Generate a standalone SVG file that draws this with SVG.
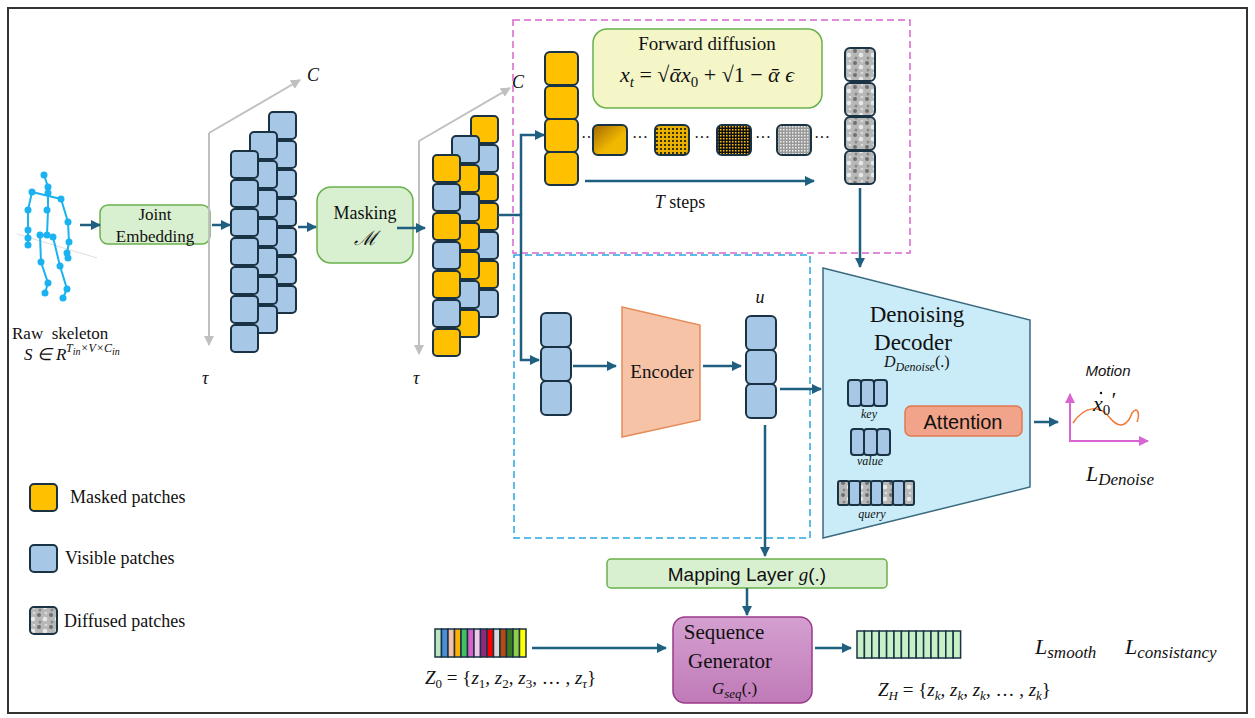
<svg xmlns="http://www.w3.org/2000/svg" width="1255" height="718" viewBox="0 0 1255 718">
<defs>
<style>
.t{font-family:"Liberation Serif","Times New Roman",serif;fill:#111}
.i{font-family:"Liberation Serif","Times New Roman",serif;font-style:italic;fill:#111}
.s{font-family:"Liberation Sans",sans-serif;fill:#111}
.ln{stroke:#1f5f80;stroke-width:2.5;fill:none}
.ax{stroke:#c0c0c0;stroke-width:2;fill:none}
.b{fill:#a7c7e7;stroke:#1a3344;stroke-width:2}
.y{fill:#ffc000;stroke:#1a3344;stroke-width:2}
.n{fill:url(#noise);stroke:#1a3344;stroke-width:2}
.g{fill:#d9f0d0;stroke:#6ab04c;stroke-width:1.5}
.jt{fill:#1ab2f0}
.bn{stroke:#1ab2f0;stroke-width:2;fill:none}
</style>
<marker id="a" viewBox="0 0 10 10" refX="9" refY="5" markerWidth="4" markerHeight="4" orient="auto"><path d="M0,0L10,5L0,10z" fill="#1f5f80"/></marker>
<marker id="ag" viewBox="0 0 10 10" refX="9" refY="5" markerWidth="5" markerHeight="5" orient="auto"><path d="M0,0L10,5L0,10z" fill="#c0c0c0"/></marker>
<marker id="am" viewBox="0 0 10 10" refX="9" refY="5" markerWidth="5" markerHeight="5" orient="auto"><path d="M0,0L10,5L0,10z" fill="#d865d0"/></marker>
<pattern id="noise" width="12" height="12" patternUnits="userSpaceOnUse">
<rect width="12" height="12" fill="#b8b8b8"/><circle cx="3" cy="3" r="2" fill="#707070"/><circle cx="9" cy="7" r="2.3" fill="#e8e8e8"/><circle cx="4" cy="10" r="1.5" fill="#888"/><circle cx="10" cy="1" r="1.3" fill="#ddd"/>
</pattern>
<pattern id="dot1" width="4" height="4" patternUnits="userSpaceOnUse"><rect width="4" height="4" fill="#e8b000"/><rect width="2" height="2" fill="#3a3000"/></pattern>
<pattern id="dot2" width="3" height="3" patternUnits="userSpaceOnUse"><rect width="3" height="3" fill="#111"/><rect width="1.5" height="1.5" fill="#ffc000"/></pattern>
<pattern id="dot3" width="3" height="3" patternUnits="userSpaceOnUse"><rect width="3" height="3" fill="#999"/><rect width="1.5" height="1.5" fill="#eee"/></pattern>
<linearGradient id="yg" x1="0" y1="0" x2="1" y2="1"><stop offset="0" stop-color="#a06800"/><stop offset="0.6" stop-color="#f0b800"/></linearGradient>
<linearGradient id="pg" x1="0" y1="0" x2="0" y2="1"><stop offset="0" stop-color="#d4a0d0"/><stop offset="1" stop-color="#c07ab8"/></linearGradient>
</defs>
<rect x="0" y="0" width="1255" height="718" fill="#fff"/>
<rect x="8" y="8" width="1239" height="705" fill="none" stroke="#333" stroke-width="2"/>

<g id="skeleton">
<line x1="17" y1="234" x2="97" y2="258" stroke="#ddd" stroke-width="1"/>
<path class="bn" d="M44,175L48,187L48,210L47,235M32,192L61,199M48,187L48,193M32,192L28,210L28,230L28,245M61,199L68,222L69,242L67,253M40,235L53,237M40,235L41,262L48,283L45,293M53,237L60,266L67,289L63,298"/>
<g class="jt"><circle cx="44" cy="175" r="3.5"/><circle cx="48" cy="187" r="3.5"/><circle cx="32" cy="192" r="3.5"/><circle cx="48" cy="193" r="3.5"/><circle cx="61" cy="199" r="3.5"/><circle cx="28" cy="210" r="3.5"/><circle cx="47" cy="210" r="3.5"/><circle cx="68" cy="222" r="3.5"/><circle cx="28" cy="230" r="3.5"/><circle cx="28" cy="238" r="3.5"/><circle cx="28" cy="245" r="3.5"/><circle cx="40" cy="235" r="3.5"/><circle cx="47" cy="235" r="3.5"/><circle cx="53" cy="237" r="3.5"/><circle cx="69" cy="242" r="3.5"/><circle cx="67" cy="253" r="3.5"/><circle cx="68" cy="258" r="3.5"/><circle cx="41" cy="262" r="3.5"/><circle cx="60" cy="266" r="3.5"/><circle cx="48" cy="283" r="3.5"/><circle cx="67" cy="289" r="3.5"/><circle cx="45" cy="293" r="3.5"/><circle cx="63" cy="298" r="3.5"/></g>
<text class="t" x="12" y="339" font-size="17" xml:space="preserve">Raw  skeleton</text>
<text class="i" x="24" y="360" font-size="17">S ∈ R</text>
<text class="i" x="66" y="352" font-size="12">T<tspan font-size="10" dy="3">in</tspan><tspan dy="-3">×V×C</tspan><tspan font-size="10" dy="3">in</tspan></text>
</g>

<g id="joint-embedding"><rect class="g" x="100" y="205" width="110" height="39" rx="8"/>
<text class="t" x="155" y="220" font-size="17" text-anchor="middle">Joint</text><text class="t" x="155" y="242" font-size="17" text-anchor="middle">Embedding</text></g>

<g id="axes1"><path class="ax" d="M209,133L300,80" marker-end="url(#ag)"/><path class="ax" d="M209,133V345" marker-end="url(#ag)"/>
<text class="i" x="307" y="81" font-size="18">C</text><text class="i" x="202" y="384" font-size="18">τ</text></g>

<g id="stack1">
<rect class="b" x="269" y="112" width="27" height="27" rx="4"/><rect class="b" x="269" y="141" width="27" height="27" rx="4"/><rect class="b" x="269" y="170" width="27" height="27" rx="4"/><rect class="b" x="269" y="199" width="27" height="27" rx="4"/><rect class="b" x="269" y="228" width="27" height="27" rx="4"/><rect class="b" x="269" y="257" width="27" height="27" rx="4"/><rect class="b" x="269" y="286" width="27" height="27" rx="4"/>
<rect class="b" x="250" y="132" width="27" height="27" rx="4"/><rect class="b" x="250" y="161" width="27" height="27" rx="4"/><rect class="b" x="250" y="190" width="27" height="27" rx="4"/><rect class="b" x="250" y="219" width="27" height="27" rx="4"/><rect class="b" x="250" y="248" width="27" height="27" rx="4"/><rect class="b" x="250" y="277" width="27" height="27" rx="4"/><rect class="b" x="250" y="306" width="27" height="27" rx="4"/>
<rect class="b" x="231" y="151" width="27" height="27" rx="4"/><rect class="b" x="231" y="180" width="27" height="27" rx="4"/><rect class="b" x="231" y="209" width="27" height="27" rx="4"/><rect class="b" x="231" y="238" width="27" height="27" rx="4"/><rect class="b" x="231" y="267" width="27" height="27" rx="4"/><rect class="b" x="231" y="296" width="27" height="27" rx="4"/><rect class="b" x="231" y="325" width="27" height="27" rx="4"/>
</g>

<g id="masking"><rect class="g" x="317" y="187" width="96" height="76" rx="14"/>
<text class="t" x="365" y="219" font-size="18" text-anchor="middle">Masking</text><text class="i" x="365" y="245" font-size="20" text-anchor="middle">ℳ</text></g>

<g id="axes2"><path class="ax" d="M419,141L510,88" marker-end="url(#ag)"/><path class="ax" d="M419,141V354" marker-end="url(#ag)"/>
<text class="i" x="512" y="88" font-size="18">C</text><text class="i" x="413" y="384" font-size="18">τ</text></g>

<g id="stack2">
<rect class="y" x="471" y="116" width="27" height="27" rx="4"/><rect class="b" x="471" y="145" width="27" height="27" rx="4"/><rect class="y" x="471" y="174" width="27" height="27" rx="4"/><rect class="y" x="471" y="203" width="27" height="27" rx="4"/><rect class="b" x="471" y="232" width="27" height="27" rx="4"/><rect class="y" x="471" y="261" width="27" height="27" rx="4"/><rect class="b" x="471" y="290" width="27" height="27" rx="4"/>
<rect class="b" x="452" y="136" width="27" height="27" rx="4"/><rect class="y" x="452" y="165" width="27" height="27" rx="4"/><rect class="b" x="452" y="194" width="27" height="27" rx="4"/><rect class="y" x="452" y="223" width="27" height="27" rx="4"/><rect class="y" x="452" y="252" width="27" height="27" rx="4"/><rect class="b" x="452" y="281" width="27" height="27" rx="4"/><rect class="y" x="452" y="310" width="27" height="27" rx="4"/>
<rect class="y" x="433" y="155" width="27" height="27" rx="4"/><rect class="b" x="433" y="184" width="27" height="27" rx="4"/><rect class="y" x="433" y="213" width="27" height="27" rx="4"/><rect class="b" x="433" y="242" width="27" height="27" rx="4"/><rect class="y" x="433" y="271" width="27" height="27" rx="4"/><rect class="b" x="433" y="300" width="27" height="27" rx="4"/><rect class="y" x="433" y="329" width="27" height="27" rx="4"/>
</g>

<g id="regions">
<rect x="513" y="20" width="397" height="233" fill="none" stroke="#d865d0" stroke-width="1.5" stroke-dasharray="7,4"/>
<rect x="514" y="255" width="296" height="283" fill="none" stroke="#28a8e0" stroke-width="1.5" stroke-dasharray="7,4"/>
</g>

<g id="forward-diffusion">
<rect x="593" y="29" width="229" height="79" rx="14" fill="#f4f6c8" stroke="#6ab04c" stroke-width="1.5"/>
<text class="t" x="707" y="50" font-size="19" text-anchor="middle">Forward diffusion</text>
<text class="i" x="707" y="82" font-size="22" text-anchor="middle">x<tspan font-size="15" dy="5">t</tspan><tspan dy="-5" font-style="normal"> = </tspan>√ᾱx<tspan font-size="15" dy="5" font-style="normal">0</tspan><tspan dy="-5" font-style="normal"> + √1 − </tspan>ᾱ ϵ</text>
</g>
<g id="masked-column"><rect class="y" x="545" y="52" width="33" height="33" rx="5"/><rect class="y" x="545" y="86" width="33" height="33" rx="5"/><rect class="y" x="545" y="119" width="33" height="33" rx="5"/><rect class="y" x="545" y="152" width="33" height="33" rx="5"/></g>
<g id="diffusion-steps">
<rect x="593" y="125" width="34" height="30" rx="5" fill="url(#yg)" stroke="#1a3344" stroke-width="2"/>
<rect x="655" y="125" width="34" height="30" rx="5" fill="url(#dot1)" stroke="#1a3344" stroke-width="2"/>
<rect x="717" y="125" width="34" height="30" rx="5" fill="url(#dot2)" stroke="#1a3344" stroke-width="2"/>
<rect x="777" y="125" width="34" height="30" rx="5" fill="url(#dot3)" stroke="#1a3344" stroke-width="2"/>
<text class="t" x="581" y="143" font-size="16">··</text><text class="t" x="632" y="143" font-size="16">···</text><text class="t" x="694" y="143" font-size="16">···</text><text class="t" x="755" y="143" font-size="16">···</text><text class="t" x="814" y="143" font-size="16">···</text>
<text class="t" x="680" y="208" font-size="18" text-anchor="middle"><tspan font-style="italic">T</tspan> steps</text>
</g>
<g id="noise-column"><rect class="n" x="845" y="48" width="30" height="33" rx="5"/><rect class="n" x="845" y="83" width="30" height="33" rx="5"/><rect class="n" x="845" y="117" width="30" height="33" rx="5"/><rect class="n" x="845" y="151" width="30" height="33" rx="5"/></g>

<g id="visible-column"><rect class="b" x="541" y="313" width="30" height="34" rx="5"/><rect class="b" x="541" y="347" width="30" height="34" rx="5"/><rect class="b" x="541" y="381" width="30" height="34" rx="5"/></g>
<g id="encoder"><path d="M622,307L700,325L700,420L622,437Z" fill="#f6c3a6" stroke="#e58c5a" stroke-width="1.5"/>
<text class="t" x="662" y="378" font-size="19" text-anchor="middle">Encoder</text></g>
<g id="u-column"><rect class="b" x="746" y="316" width="30" height="34" rx="5"/><rect class="b" x="746" y="350" width="30" height="34" rx="5"/><rect class="b" x="746" y="384" width="30" height="34" rx="5"/>
<text class="i" x="760" y="303" font-size="18" text-anchor="middle">u</text></g>

<g id="decoder">
<path d="M823,268L1030,320L1030,487L823,538Z" fill="#c9ecf8" stroke="#3a6a80" stroke-width="1.5"/>
<text class="t" x="917" y="322" font-size="23" text-anchor="middle">Denoising</text>
<text class="t" x="913" y="350" font-size="23" text-anchor="middle">Decoder</text>
<text class="i" x="884" y="367" font-size="16">D<tspan font-size="12" dy="4">Denoise</tspan><tspan dy="-4" font-style="normal">(.)</tspan></text>
<g class="b"><rect x="848" y="380" width="13" height="26" rx="3"/><rect x="861" y="380" width="13" height="26" rx="3"/><rect x="874" y="380" width="13" height="26" rx="3"/>
<rect x="851" y="429" width="13" height="26" rx="3"/><rect x="864" y="429" width="13" height="26" rx="3"/><rect x="877" y="429" width="13" height="26" rx="3"/></g>
<rect class="n" x="838" y="481" width="11" height="24" rx="2"/><rect class="b" x="849" y="481" width="11" height="24" rx="2"/><rect class="n" x="860" y="481" width="11" height="24" rx="2"/><rect class="b" x="871" y="481" width="11" height="24" rx="2"/><rect class="n" x="882" y="481" width="11" height="24" rx="2"/><rect class="b" x="893" y="481" width="11" height="24" rx="2"/><rect class="n" x="904" y="481" width="10" height="24" rx="2"/>
<text class="i" x="869" y="418" font-size="12" text-anchor="middle">key</text>
<text class="i" x="870" y="465" font-size="12" text-anchor="middle">value</text>
<text class="i" x="872" y="518" font-size="12" text-anchor="middle">query</text>
</g>
<g id="attention"><rect x="905" y="406" width="117" height="30" rx="6" fill="#f2a48a" stroke="#e07850" stroke-width="1.5"/>
<text class="s" x="963" y="429" font-size="20" text-anchor="middle">Attention</text></g>

<g id="motion">
<path d="M1070,442V394" stroke="#d865d0" stroke-width="2" marker-end="url(#am)"/>
<path d="M1069,441H1148" stroke="#d865d0" stroke-width="2" marker-end="url(#am)"/>
<path d="M1073,423C1085,405 1100,405 1110,418C1120,430 1128,425 1132,413C1138,405 1140,415 1137,422" fill="none" stroke="#f07830" stroke-width="1.5"/>
<text x="1108" y="376" font-size="15" font-family="Liberation Sans,sans-serif" font-style="italic" text-anchor="middle" fill="#111">Motion</text>
<text class="i" x="1093" y="411" font-size="22">x<tspan font-size="15" dy="4" font-style="normal">0</tspan><tspan dy="-8">′</tspan></text>
<circle cx="1101" cy="393" r="1.2" fill="#111"/>
<text class="i" x="1086" y="481" font-size="22">L<tspan font-size="17" dy="4">Denoise</tspan></text>
</g>

<g id="legend">
<rect class="y" x="30" y="484" width="27" height="27" rx="4"/><text class="t" x="70" y="503" font-size="18">Masked patches</text>
<rect class="b" x="30" y="545" width="27" height="27" rx="4"/><text class="t" x="65" y="564" font-size="18">Visible patches</text>
<rect class="n" x="30" y="607" width="27" height="27" rx="4"/><text class="t" x="64" y="627" font-size="18">Diffused patches</text>
</g>

<g id="mapping-layer"><rect class="g" x="607" y="559" width="280" height="29" rx="4"/>
<text class="s" x="747" y="581" font-size="19" text-anchor="middle">Mapping Layer <tspan font-family="Liberation Serif,serif" font-style="italic">g</tspan>(.)</text></g>

<g id="sequence-generator"><rect x="673" y="617" width="139" height="86" rx="12" fill="url(#pg)" stroke="#9a3a8a" stroke-width="1.5"/>
<text class="t" x="724" y="639" font-size="21" text-anchor="middle">Sequence</text>
<text class="t" x="730" y="668" font-size="21" text-anchor="middle">Generator</text>
<text class="i" x="712" y="694" font-size="17">G<tspan font-size="13" dy="4">seq</tspan><tspan dy="-4" font-style="normal">(.)</tspan></text></g>

<g id="z0">
<g stroke="#1a3344" stroke-width="1.5">
<rect x="435" y="629" width="6.5" height="28" fill="#b8e6c0"/><rect x="441.5" y="629" width="6.5" height="28" fill="#4a90d9"/><rect x="448" y="629" width="6.5" height="28" fill="#f4c0a8"/><rect x="454.5" y="629" width="6.5" height="28" fill="#ffb000"/><rect x="461" y="629" width="6.5" height="28" fill="#40c060"/><rect x="467.5" y="629" width="6.5" height="28" fill="#d860c8"/><rect x="474" y="629" width="6.5" height="28" fill="#f0c8e8"/><rect x="480.5" y="629" width="6.5" height="28" fill="#902880"/><rect x="487" y="629" width="6.5" height="28" fill="#ff0000"/><rect x="493.5" y="629" width="6.5" height="28" fill="#d8d8d8"/><rect x="500" y="629" width="6.5" height="28" fill="#b84a10"/><rect x="506.5" y="629" width="6.5" height="28" fill="#3a7a20"/><rect x="513" y="629" width="6.5" height="28" fill="#90d040"/><rect x="519.5" y="629" width="6.5" height="28" fill="#ffff00"/>
</g>
<text class="i" x="425" y="684" font-size="19">Z<tspan font-size="13" dy="4" font-style="normal">0</tspan><tspan dy="-4" font-style="normal"> = {</tspan>z<tspan font-size="13" dy="4" font-style="normal">1</tspan><tspan dy="-4">, z</tspan><tspan font-size="13" dy="4" font-style="normal">2</tspan><tspan dy="-4">, z</tspan><tspan font-size="13" dy="4" font-style="normal">3</tspan><tspan dy="-4" font-style="normal">, … , </tspan>z<tspan font-size="13" dy="4">τ</tspan><tspan dy="-4" font-style="normal">}</tspan></text>
</g>
<g id="zh">
<g fill="#c8f0c8" stroke="#1a3344" stroke-width="1.5">
<rect x="857" y="631" width="7.4" height="27"/><rect x="864.4" y="631" width="7.4" height="27"/><rect x="871.8" y="631" width="7.4" height="27"/><rect x="879.2" y="631" width="7.4" height="27"/><rect x="886.6" y="631" width="7.4" height="27"/><rect x="894" y="631" width="7.4" height="27"/><rect x="901.4" y="631" width="7.4" height="27"/><rect x="908.8" y="631" width="7.4" height="27"/><rect x="916.2" y="631" width="7.4" height="27"/><rect x="923.6" y="631" width="7.4" height="27"/><rect x="931" y="631" width="7.4" height="27"/><rect x="938.4" y="631" width="7.4" height="27"/><rect x="945.8" y="631" width="7.4" height="27"/><rect x="953.2" y="631" width="7.4" height="27"/>
</g>
<text class="i" x="878" y="696" font-size="19">Z<tspan font-size="13" dy="4">H</tspan><tspan dy="-4" font-style="normal"> = {</tspan>z<tspan font-size="13" dy="4">k</tspan><tspan dy="-4">, z</tspan><tspan font-size="13" dy="4">k</tspan><tspan dy="-4">, z</tspan><tspan font-size="13" dy="4">k</tspan><tspan dy="-4" font-style="normal">, … , </tspan>z<tspan font-size="13" dy="4">k</tspan><tspan dy="-4" font-style="normal">}</tspan></text>
<text class="i" x="1035" y="654" font-size="22">L<tspan font-size="17" dy="4">smooth</tspan></text>
<text class="i" x="1125" y="654" font-size="22">L<tspan font-size="17" dy="4">consistancy</tspan></text>
</g>

<g id="connectors">
<path class="ln" d="M80,225H100" marker-end="url(#a)"/>
<path class="ln" d="M212,225H230" marker-end="url(#a)"/>
<path class="ln" d="M298,227H316" marker-end="url(#a)"/>
<path class="ln" d="M397,228H425" marker-end="url(#a)"/>
<path class="ln" d="M498,215H521V360H539" marker-end="url(#a)"/>
<path class="ln" d="M521,215V135H544" marker-end="url(#a)"/>
<path class="ln" d="M585,181H814" marker-end="url(#a)"/>
<path class="ln" d="M860,188V267" marker-end="url(#a)"/>
<path class="ln" d="M573,366H616" marker-end="url(#a)"/>
<path class="ln" d="M703,366H741" marker-end="url(#a)"/>
<path class="ln" d="M780,389H821" marker-end="url(#a)"/>
<path class="ln" d="M765,425V556" marker-end="url(#a)"/>
<path class="ln" d="M1034,422H1058" marker-end="url(#a)"/>
<path class="ln" d="M747,588V615" marker-end="url(#a)"/>
<path class="ln" d="M532,648H666" marker-end="url(#a)"/>
<path class="ln" d="M815,648H851" marker-end="url(#a)"/>
</g>
</svg>
